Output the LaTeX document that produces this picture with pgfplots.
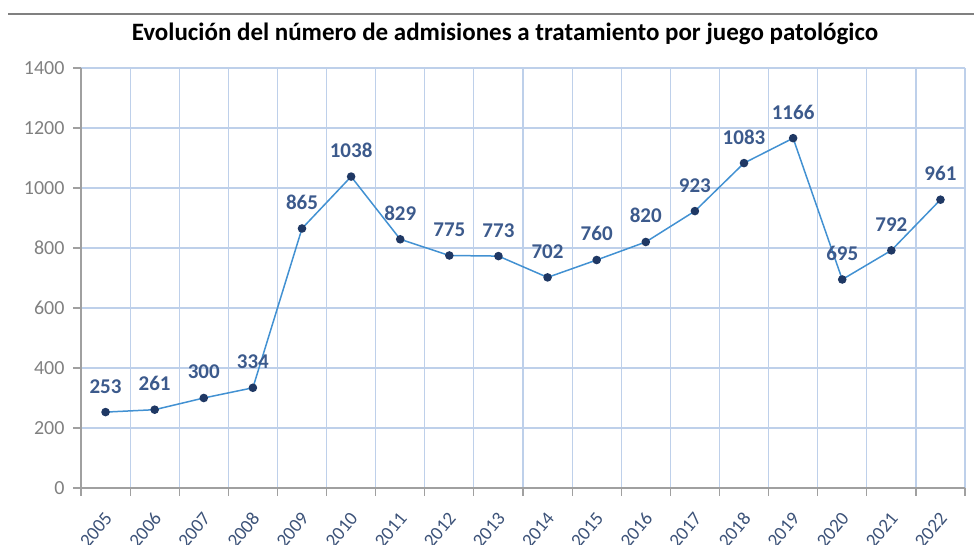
\documentclass[border=0pt]{standalone}
\usepackage{pgfplots}
\pgfplotsset{compat=1.18}
\usepackage{fontspec}
\setmainfont{Carlito}
\definecolor{linecol}{RGB}{66,145,210}
\definecolor{markcol}{RGB}{31,56,100}
\definecolor{labcol}{RGB}{60,90,140}
\definecolor{gridcol}{RGB}{190,208,234}
\definecolor{axiscol}{RGB}{160,160,160}
\definecolor{ytcol}{RGB}{128,128,128}
\definecolor{xtcol}{RGB}{60,82,120}
\begin{document}
\begin{tikzpicture}[x=1bp,y=1bp]
\useasboundingbox (0,0) rectangle (974,545);
\draw[line width=1.5bp, gray] (8,531) -- (974,531);
\node[font=\fontsize{25bp}{29bp}\selectfont\bfseries] at (505,511) {Evolución del número de admisiones a tratamiento por juego patológico};
\begin{axis}[
 at={(81bp,57bp)}, anchor=south west,
 width=884bp, height=420bp, scale only axis,
 xmin=-0.5, xmax=17.5, ymin=0, ymax=1400,
 axis x line*=bottom, axis y line*=left,
 axis line style={draw=axiscol, line width=1.2bp, -},
 xtick={0,...,17},
 xticklabels={2005,2006,2007,2008,2009,2010,2011,2012,2013,2014,2015,2016,2017,2018,2019,2020,2021,2022},
 minor xtick={-0.5,0.5,...,17.5},
 ytick={0,200,...,1400},
 tick align=outside,
 major tick length=8bp, minor tick length=8bp,
 major x tick style={draw=none},
 minor x tick style={draw=axiscol, line width=1.2bp},
 major y tick style={draw=axiscol, line width=1.2bp},
 xminorgrids=true, ymajorgrids=true, xmajorgrids=false,
 grid style={draw=gridcol, line width=1.2bp},
 /pgf/number format/assume math mode=true,
 /pgf/number format/1000 sep={},
 yticklabel style={font=\fontsize{20bp}{24bp}\selectfont, color=ytcol, xshift=-5bp},
 xticklabel style={font=\fontsize{19bp}{23bp}\selectfont, color=xtcol, inner sep=0pt, xshift=3bp, yshift=-19bp, rotate=50, anchor=east},
 clip=false,
]
\addplot[linecol, line width=1.5bp, mark=*, mark size=3.5bp, mark options={fill=markcol, draw=markcol},
 nodes near coords,
 nodes near coords style={font=\fontsize{21bp}{25bp}\selectfont\bfseries, color=labcol, anchor=base, inner sep=0pt, yshift=19bp},
] coordinates {
(0,253) (1,261) (2,300) (3,334) (4,865) (5,1038) (6,829) (7,775) (8,773)
(9,702) (10,760) (11,820) (12,923) (13,1083) (14,1166) (15,695) (16,792) (17,961)
};
\end{axis}
\end{tikzpicture}
\end{document}
